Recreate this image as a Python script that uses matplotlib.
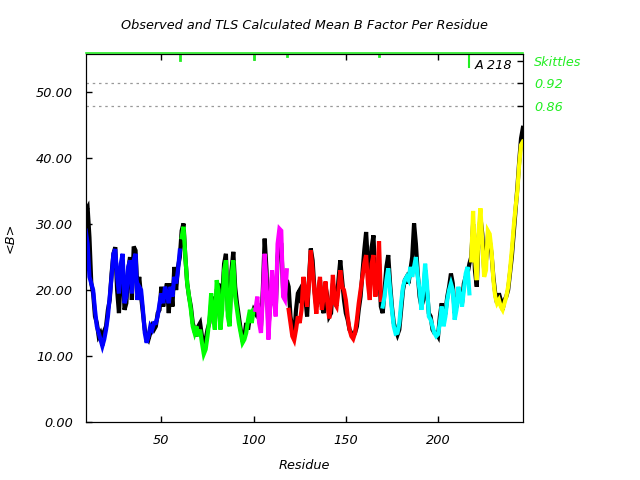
import matplotlib
matplotlib.use("Agg")
import matplotlib.pyplot as plt
import numpy as np

# Residue numbers and per-residue mean B factors
first_res = 9
observed_b = [
    32.0, 32.5, 28.0, 21.0, 19.5, 16.0, 15.0, 13.0, 13.5, 12.5,  # 9-18
    13.8, 14.5, 17.0, 18.5, 22.5, 25.5, 26.5, 20.0, 16.5, 22.5,  # 19-28
    24.5, 17.0, 18.0, 23.0, 25.0, 18.5, 26.6, 26.0, 20.0, 22.0,  # 29-38
    19.0, 16.5, 14.0, 13.0, 12.5, 13.5, 14.5, 14.0, 14.5, 16.5,  # 39-48
    17.0, 20.5, 17.5, 19.5, 21.0, 16.5, 21.0, 17.5, 23.5, 20.0,  # 49-58
    23.5, 25.0, 29.0, 30.1, 25.0, 21.0, 19.0, 17.5, 15.0, 14.0,  # 59-68
    13.0, 14.5, 15.0, 13.0, 11.5, 12.5, 14.0, 15.0, 18.0, 19.0,  # 69-78
    15.0, 20.0, 21.0, 14.5, 19.0, 24.0, 25.5, 17.0, 15.0, 23.0,  # 79-88
    25.8, 20.5, 18.0, 16.0, 14.0, 12.5, 13.0, 15.0, 14.0, 16.0,  # 89-98
    16.0, 17.0, 16.5, 18.0, 16.0, 14.5, 20.0, 27.8, 23.0, 14.0,  # 99-108
    18.0, 22.0, 18.5, 17.0, 25.0, 28.0, 27.0, 20.0, 19.5, 21.5,  # 109-118
    20.5, 16.0, 14.0, 13.0, 17.0, 19.5, 20.0, 18.0, 21.0, 19.0,  # 119-128
    16.0, 21.5, 26.3, 24.5, 20.0, 17.5, 18.5, 21.5, 17.5, 16.5,  # 129-138
    20.5, 19.0, 16.0, 16.5, 21.0, 19.5, 18.0, 21.5, 24.5, 21.5,  # 139-148
    18.5, 16.5, 15.5, 14.0, 13.5, 13.0, 13.5, 14.5, 17.0, 19.0,  # 149-158
    22.5, 26.0, 28.8, 24.0, 20.0, 26.5, 28.3, 21.0, 20.0, 24.0,  # 159-168
    17.5, 16.5, 20.0, 23.5, 25.3, 21.0, 17.5, 15.0, 14.0, 13.2,  # 169-178
    14.0, 17.0, 20.0, 21.5, 22.0, 21.0, 23.0, 25.0, 30.1, 27.0,  # 179-188
    22.5, 19.0, 17.5, 18.5, 23.0, 20.0, 16.5, 16.0, 14.0, 13.5,  # 189-198
    13.5, 13.0, 16.0, 18.0, 15.5, 16.5, 19.0, 20.5, 22.5, 21.0,  # 199-208
    16.5, 17.5, 19.5, 19.0, 18.0, 21.0, 22.0, 22.5, 24.0, 25.0,  # 209-218
    30.0, 23.0, 20.5, 28.0, 31.0, 28.5, 23.0, 24.5, 28.0, 27.5,  # 219-228
    25.5, 22.0, 19.5, 18.0, 19.5, 18.5, 17.0, 18.5, 19.0, 20.0,  # 229-238
    22.5, 25.0, 28.5, 32.0, 35.5, 39.5, 43.0, 44.6,              # 239-246
]
tls_b = [
    29.0, 27.0, 22.0, 21.0, 20.0, 17.0, 14.5, 13.5, 12.5, 11.5,  # 9-18
    12.5, 14.0, 16.0, 19.0, 22.0, 25.5, 26.2, 22.0, 19.5, 24.0,  # 19-28
    25.5, 18.0, 19.0, 23.5, 24.5, 19.5, 24.5, 25.5, 18.5, 20.5,  # 29-38
    20.0, 17.0, 13.5, 12.0, 13.0, 14.5, 14.0, 15.0, 15.0, 16.0,  # 39-48
    18.0, 19.5, 18.0, 20.5, 19.5, 18.0, 20.5, 19.0, 22.0, 21.0,  # 49-58
    23.0, 26.0, 28.0, 29.6, 25.0, 21.0, 19.0, 17.0, 14.5, 13.5,  # 59-68
    14.5, 13.0, 14.0, 12.0, 10.3, 11.0, 13.0, 15.5, 19.5, 16.0,  # 69-78
    14.0, 21.5, 20.0, 14.0, 17.0, 23.0, 24.5, 16.0, 14.5, 22.0,  # 79-88
    24.5, 19.0, 17.0, 15.0, 13.5, 12.0, 12.5, 13.5, 15.5, 17.0,  # 89-98
    15.0, 17.0, 17.0, 19.0, 15.0, 13.5, 19.0, 25.5, 21.0, 12.5,  # 99-108
    17.5, 23.0, 19.0, 16.0, 27.0, 29.3, 29.0, 19.0, 18.5, 23.0,  # 109-118
    17.0, 15.0, 13.0, 12.4, 14.0, 16.0, 15.0, 17.0, 22.0, 20.0,  # 119-128
    17.5, 21.0, 26.0, 23.0, 19.5, 16.4, 20.0, 22.0, 17.0, 19.0,  # 129-138
    21.3, 18.0, 15.7, 18.0, 22.3, 18.0, 17.5, 20.0, 23.0, 20.5,  # 139-148
    20.0, 18.5, 16.0, 14.0, 13.0, 12.6, 13.5, 15.5, 18.0, 20.0,  # 149-158
    22.0, 24.0, 25.3, 21.0, 18.5, 24.0, 25.3, 19.0, 21.0, 27.4,  # 159-168
    18.5, 17.5, 19.0, 21.5, 23.3, 20.0, 17.0, 14.5, 13.4, 13.5,  # 169-178
    15.0, 18.0, 20.5, 21.5, 22.0, 21.5, 23.5, 22.0, 23.5, 25.0,  # 179-188
    22.0, 20.0, 17.0, 20.0, 24.0, 21.0, 16.0, 15.5, 14.5, 13.5,  # 189-198
    13.0, 13.3, 15.0, 17.5, 14.5, 16.0, 18.5, 20.0, 21.0, 20.0,  # 199-208
    15.5, 17.0, 20.5, 19.0, 17.5, 20.0, 22.5, 23.5, 19.5, 24.5,  # 209-218
    32.0, 25.0, 21.5, 29.0, 32.4, 27.0, 22.0, 23.0, 29.0, 28.5,  # 219-228
    26.0, 21.5, 19.0, 18.0, 18.5, 17.5, 17.0, 18.0, 19.0, 20.5,  # 229-238
    23.0, 26.0, 29.5, 32.5, 35.0, 39.0, 42.0, 42.5,              # 239-246
]

# TLS segments (chain A): first and last residue, colour
seg_start = [9, 61, 101, 119, 170, 218]
seg_end = [60, 100, 118, 169, 217, 246]
seg_colors = ["#0000ff", "#00ff00", "#ff00ff", "#ff0000", "#00ffff", "#ffff00"]

# Skittles markers along the top
skittle_res = [60, 100, 118, 168]
skittle_len = [0.017, 0.014, 0.006, 0.006]
skittle_levels = [51.4, 47.9]
skittle_labels = ["0.92", "0.86"]

GREEN = "#22ee22"
FONT = dict(family="DejaVu Sans", style="italic", fontsize=9.3)

residues = np.arange(first_res, first_res + len(observed_b))
observed_b = np.array(observed_b)
tls_b = np.array(tls_b)

fig = plt.figure(figsize=(6.4, 4.8), dpi=100)
ax = fig.add_axes([0.134, 0.121, 0.683, 0.7665])

ax.plot(residues, observed_b, color="black", lw=3.0, solid_joinstyle="miter", zorder=2)
for s, e, c in zip(seg_start, seg_end, seg_colors):
    m = (residues >= s) & (residues <= e)
    ax.plot(residues[m], tls_b[m], color=c, lw=3.0, solid_joinstyle="miter", zorder=3)

for lev in skittle_levels:
    ax.axhline(lev, color="#999999", lw=0.9, ls=(0, (2, 3)), zorder=1)

ax.set_xlim(9, 246)
ax.set_ylim(0, 55.8)

# green skittles on top edge
ax.plot([0, 1], [1.004, 1.004], transform=ax.transAxes, color=GREEN, lw=1.2,
        clip_on=False, zorder=5)
for r, L in zip(skittle_res, skittle_len):
    ax.plot([r, r], [55.8, 55.8 - L * 55.8], color=GREEN, lw=2, zorder=5)
ax.plot([217, 217], [55.8, 53.8], color=GREEN, lw=1.5, zorder=5)
ax.text(220, 54.0, "A 218", ha="left", va="center", **FONT)

ax.set_xticks([50, 100, 150, 200])
ax.set_yticks([0, 10, 20, 30, 40, 50])
ax.yaxis.set_major_formatter(matplotlib.ticker.FormatStrFormatter("%.2f"))
ax.tick_params(direction="in", length=4, width=1, pad=9, top=True, right=True)
for lbl in ax.get_xticklabels() + ax.get_yticklabels():
    lbl.set_fontstyle("italic")
    lbl.set_fontsize(9.3)

# right side skittles labels
ax2 = ax.twinx()
ax2.set_ylim(ax.get_ylim())
ax2.set_yticks([54.7] + skittle_levels)
ax2.set_yticklabels(["Skittles"] + skittle_labels)
ax2.tick_params(direction="in", length=4, width=1, pad=8, colors="black")
for lbl in ax2.get_yticklabels():
    lbl.set_color(GREEN)
    lbl.set_fontstyle("italic")
    lbl.set_fontsize(9.3)

ax.set_title("Observed and TLS Calculated Mean B Factor Per Residue", pad=18, **FONT)
ax.set_xlabel("Residue", labelpad=8, **FONT)
ax.set_ylabel("<B>", labelpad=14, **FONT)

fig.savefig("out.png", dpi=100)
